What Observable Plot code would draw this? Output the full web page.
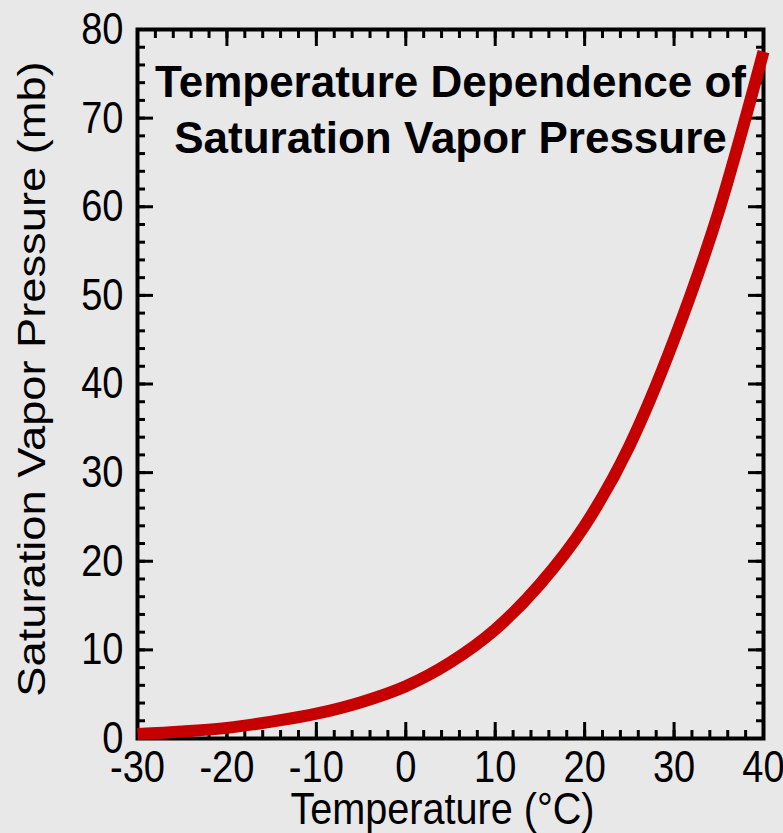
<!DOCTYPE html>
<html><head><meta charset="utf-8">
<script src="https://cdn.jsdelivr.net/npm/d3@7"></script>
<script src="https://cdn.jsdelivr.net/npm/@observablehq/plot@0.6"></script>
<style>html,body{margin:0;padding:0;background:#e8e8e8;}</style>
</head><body><div id="chart"></div>
<script>
// Data
const temperature = [-30, -25, -20, -15, -10, -5, 0, 5, 10, 15, 20, 25, 30, 35, 40];
const pressure    = [0.5, 0.8, 1.2, 1.9, 2.8, 4.1, 5.9, 8.6, 12.3, 17.4, 24.0, 33.0, 45.0, 59.5, 77.5];
const xTicks = [-30, -20, -10, 0, 10, 20, 30, 40];
const yTicks = [0, 10, 20, 30, 40, 50, 60, 70, 80];
const titleLines = ["Temperature Dependence of", "Saturation Vapor Pressure"];
const xLabel = "Temperature (°C)";
const yLabel = "Saturation Vapor Pressure (mb)";

const data = temperature.map((t, i) => ({t, p: pressure[i]}));
const sans = "'Liberation Sans', Arial, Helvetica, sans-serif";
const fmt = d => String(d);

const tickOpts = {fill: "none", stroke: "black", strokeWidth: 3, label: null};

const chart = Plot.plot({
  width: 783,
  height: 833,
  marginLeft: 137,
  marginRight: 20,
  marginTop: 29,
  marginBottom: 95,
  style: {background: "#e8e8e8", color: "black", overflow: "visible"},
  x: {domain: [-30, 40]},
  y: {domain: [0, 80]},
  marks: [
    Plot.frame({stroke: "black", strokeWidth: 4}),
    // tick labels
    Plot.axisX(xTicks, {anchor: "bottom", tickSize: 0, tickPadding: 12, tickFormat: fmt, fontSize: 45, fontFamily: sans, fill: "black", label: null}),
    Plot.axisY(yTicks, {anchor: "left", tickSize: 0, tickPadding: 14, tickFormat: fmt, fontSize: 45, fontFamily: sans, fill: "black", label: null}),
    // inward ticks on all four sides
    Plot.axisX(xTicks, {anchor: "bottom", tickSize: -16, ...tickOpts}),
    Plot.axisX({anchor: "bottom", interval: 2, tickSize: -8, ...tickOpts}),
    Plot.axisX(xTicks, {anchor: "top", tickSize: -16, ...tickOpts}),
    Plot.axisX({anchor: "top", interval: 2, tickSize: -8, ...tickOpts}),
    Plot.axisY(yTicks, {anchor: "left", tickSize: -16, ...tickOpts}),
    Plot.axisY({anchor: "left", interval: 2, tickSize: -8, ...tickOpts}),
    Plot.axisY(yTicks, {anchor: "right", tickSize: -16, ...tickOpts}),
    Plot.axisY({anchor: "right", interval: 2, tickSize: -8, ...tickOpts}),
    // titles
    Plot.text([titleLines.join("\n")], {text: d => d, frameAnchor: "top", lineAnchor: "top", dy: 28, fontSize: 44, fontWeight: "bold", fontFamily: sans, lineHeight: 1.27, fill: "black"}),
    Plot.text([xLabel], {text: d => d, frameAnchor: "bottom", lineAnchor: "top", dy: 54, dx: -8, fontSize: 44, fontFamily: sans, fill: "black"}),
    Plot.text([yLabel], {text: d => d, frameAnchor: "left", textAnchor: "middle", rotate: -90, lineAnchor: "top", dx: -120, dy: -5, fontSize: 39, fontFamily: sans, fill: "black"}),
    // curve
    Plot.line(data, {x: "t", y: "p", stroke: "#c60000", strokeWidth: 12, curve: "monotone-x", strokeLinecap: "butt"})
  ]
});
document.getElementById("chart").append(chart);

// The reference lettering is tall and narrow: condense the glyphs horizontally
const tickText = new Set([...xTicks, ...yTicks].map(fmt));
chart.querySelectorAll("text").forEach(t => {
  if (t.querySelector("tspan")) return;
  const s = t.textContent;
  let factor = null;
  if (s === xLabel) factor = 0.9;
  else if (s === yLabel) factor = 1.16;
  else if (tickText.has(s)) factor = 0.845;
  if (factor == null) return;
  const L = t.getComputedTextLength();
  if (!(L > 0)) return;
  t.setAttribute("textLength", (L * factor).toFixed(1));
  t.setAttribute("lengthAdjust", "spacingAndGlyphs");
});
</script></body></html>
